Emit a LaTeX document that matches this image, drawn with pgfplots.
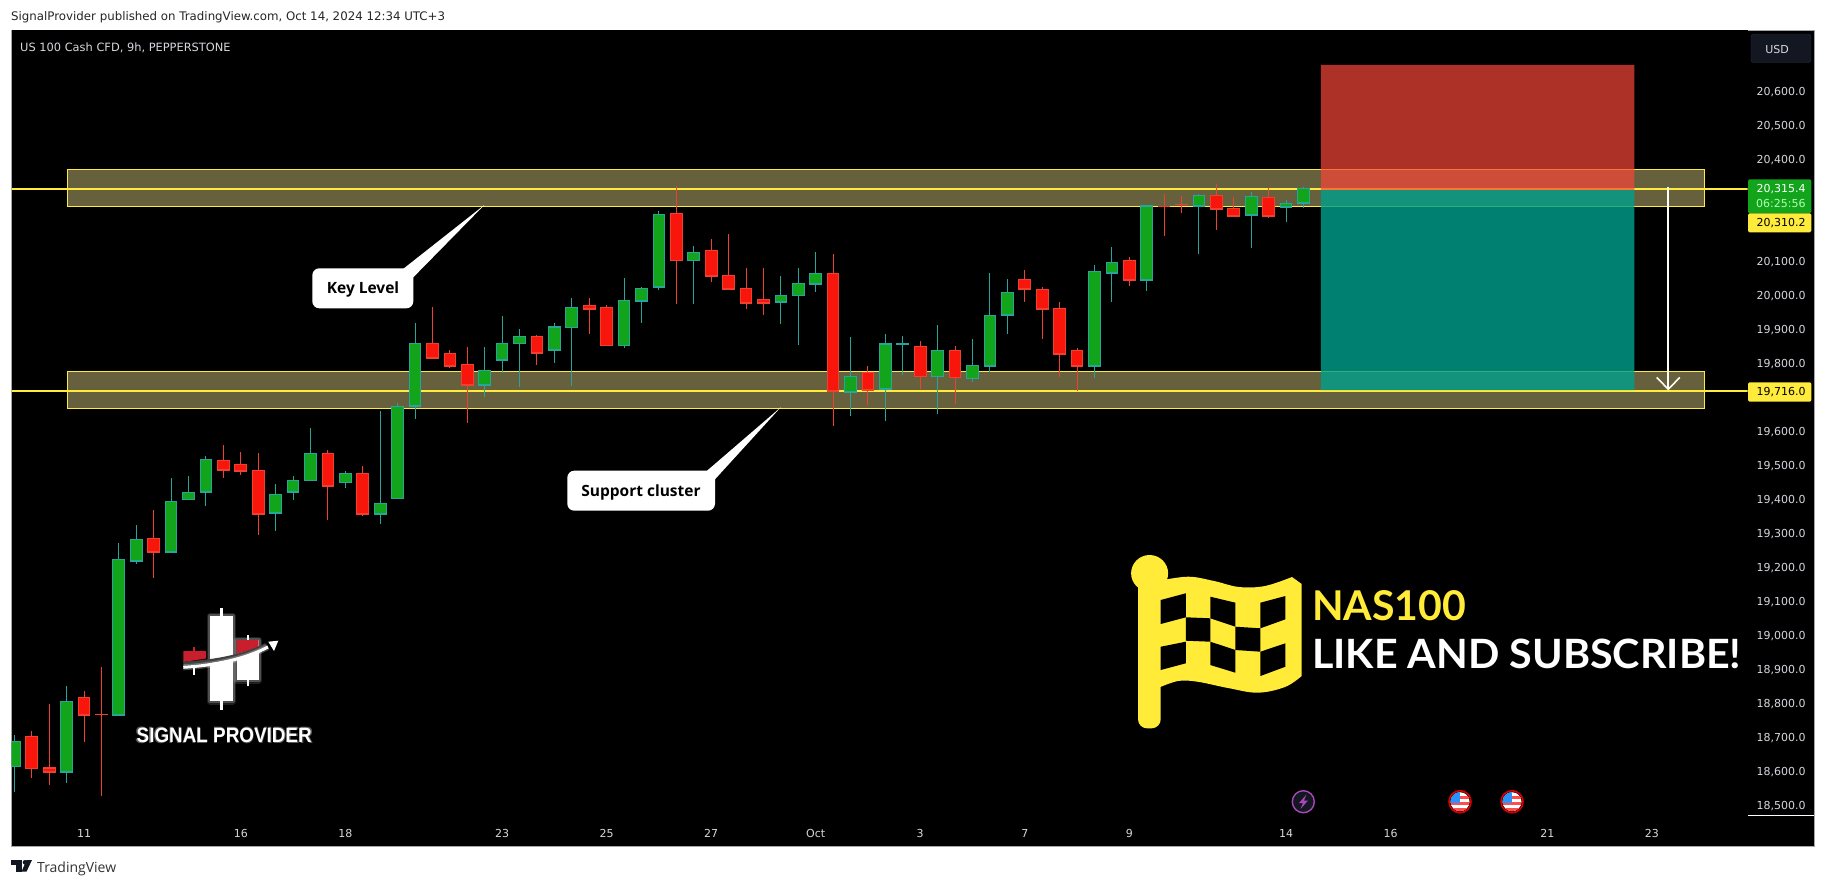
\documentclass[border=0pt]{standalone}
\usepackage{fontspec}
\usepackage{pgfplots}
\usepackage{pgfplotstable}
\pgfplotsset{compat=1.18}
\setmainfont{DejaVu Sans}
\newfontfamily\callfont{Open Sans}
\newfontfamily\bigfont{Lato}
\newfontfamily\logofont{Liberation Sans}
\newfontfamily\tvfont{Open Sans}
\definecolor{upfill}{HTML}{12A51C}
\definecolor{upedge}{HTML}{26A69A}
\definecolor{dnfill}{HTML}{F8150B}
\definecolor{dnedge}{HTML}{F0402F}
\definecolor{bandfill}{HTML}{66603C}
\definecolor{tvyellow}{HTML}{FFEB3B}
\definecolor{flagyellow}{HTML}{FFEB38}
\definecolor{ticktxt}{HTML}{D6D8DE}
\definecolor{rrred}{RGB}{249,70,56}
\definecolor{rrteal}{RGB}{0,160,141}
\definecolor{framegrey}{HTML}{A6A6A6}
\definecolor{usdfill}{RGB}{19,23,34}
\definecolor{usdedge}{RGB}{42,46,57}
\definecolor{purp}{RGB}{171,71,188}
\definecolor{logored}{RGB}{200,30,45}

\pgfplotstableread{
x bl bh l h
0 18613 18687 18538 18705
3 18598 18805 18565 18850
6 18765 19222 18765 19270
7 19218 19281 19208 19323
9 19245 19393 19241 19461
10 19399 19419 19399 19466
11 19421 19516 19379 19526
15 19359 19413 19305 19444
16 19421 19454 19397 19466
17 19454 19534 19454 19608
19 19448 19475 19432 19482
21 19356 19387 19326 19658
22 19401 19672 19401 19682
23 19674 19857 19635 19917
27 19736 19778 19700 19847
28 19809 19857 19771 19938
29 19857 19878 19729 19900
31 19839 19905 19800 19917
32 19904 19963 19732 19991
35 19851 19984 19844 20050
36 19983 20019 19917 20023
37 20024 20237 20014 20247
39 20101 20125 19973 20144
44 19980 19999 19914 20055
45 19998 20034 19853 20079
46 20033 20063 20008 20126
48 19715 19760 19644 19876
50 19724 19855 19629 19885
51 19855 19855 19764 19879
53 19760 19837 19650 19911
55 19754 19793 19744 19870
56 19792 19940 19773 20064
57 19942 20007 19885 20047
62 19792 20069 19756 20088
63 20065 20096 19979 20141
65 20045 20261 20011 20264
68 20262 20293 20120 20297
71 20236 20290 20138 20302
73 20259 20269 20214 20279
74 20271 20313 20255 20317
}\uptable

\pgfplotstableread{
x bl bh l h
1 18607 18702 18579 18717
2 18598 18608 18559 18797
4 18765 18816 18685 18835
5 18766 18766 18526 18906
8 19245 19284 19167 19367
12 19486 19513 19461 19558
13 19483 19501 19470 19538
14 19356 19484 19294 19535
18 19439 19534 19338 19544
20 19356 19475 19350 19497
24 19815 19857 19815 19964
25 19792 19828 19785 19838
26 19736 19796 19624 19847
30 19830 19878 19794 19882
33 19959 19967 19885 19991
34 19851 19963 19851 19970
38 20101 20240 19973 20320
40 20056 20131 20038 20164
41 20018 20057 20018 20179
42 19977 20019 19958 20079
43 19977 19987 19941 20079
47 19718 20063 19614 20120
49 19721 19772 19676 19791
52 19760 19849 19723 19864
54 19757 19837 19679 19850
58 20018 20046 19979 20073
59 19959 20016 19870 20023
60 19827 19960 19759 19979
61 19792 19837 19717 19844
64 20045 20101 20026 20111
66 20260 20260 20173 20297
67 20266 20266 20241 20291
69 20253 20293 20191 20326
70 20233 20254 20233 20288
72 20233 20287 20226 20314
}\dntable

\newcommand{\candles}[3]{%
  % wicks
  \addplot[draw=none, mark=none, forget plot,
    error bars/.cd, y dir=both, y explicit, error mark=none,
    error bar style={line width=1pt, draw=#2, solid}]
    table[x=x, y=bl, y error plus expr=\thisrow{h}-\thisrow{bl}, y error minus expr=\thisrow{bl}-\thisrow{l}] {#1};
  % body outline
  \addplot[draw=none, mark=none, forget plot,
    error bars/.cd, y dir=both, y explicit, error mark=none,
    error bar style={line width=12.7pt, draw=#2, solid}]
    table[x=x, y=bl, y error plus expr=\thisrow{bh}-\thisrow{bl}+1.8, y error minus expr=1.8] {#1};
  % body fill
  \addplot[draw=none, mark=none, forget plot,
    error bars/.cd, y dir=both, y explicit, error mark=none,
    error bar style={line width=10.7pt, draw=#3, solid}]
    table[x=x, y expr=(\thisrow{bl}+\thisrow{bh})/2,
      y error plus expr={max((\thisrow{bh}-\thisrow{bl})/2-1.2,0)},
      y error minus expr={max((\thisrow{bh}-\thisrow{bl})/2-1.2,0)}] {#1};
}

\begin{document}
\begin{tikzpicture}[x=1pt,y=-1pt]
% page and frame
\fill[white] (0,0) rectangle (1826,886);
\fill[black] (11,30) rectangle (1814,846);
\draw[framegrey, line width=1pt] (11,846) -- (11,30) -- (1814,30) -- (1814,846) -- cycle;
\node[anchor=west, inner sep=0pt, text=black!85, font=\fontsize{11.8}{13}\selectfont] at (11,17.5)
  {SignalProvider published on TradingView.com, Oct 14, 2024 12:34 UTC+3};

\begin{axis}[
  at={(11.5pt,-815.7pt)}, anchor=south west,
  width=1736pt, height=785.7pt, scale only axis,
  xmin=-0.162, xmax=99.49, ymin=18468, ymax=20778.8,
  axis line style={draw=none},
  axis background/.style={fill=black},
  major tick length=0pt,
  clip=true,
  scaled y ticks=false,
  xtick={4,13,19,28,34,40,46,52,58,64,73,79,88,94},
  xticklabels={11,16,18,23,25,27,Oct,3,7,9,14,16,21,23},
  ytick={18500,18600,18700,18800,18900,19000,19100,19200,19300,19400,19500,19600,19800,19900,20000,20100,20400,20500,20600},
  yticklabel pos=right,
  /pgf/number format/.cd, fixed, fixed zerofill, precision=1, 1000 sep={,}, assume math mode=true,
  /pgfplots/.cd,
  yticklabel style={anchor=east, inner sep=0pt, xshift=58.2pt, yshift=-1pt, text=ticktxt, font=\fontsize{11}{13}\selectfont},
  xticklabel style={anchor=center, inner sep=0pt, yshift=-17.5pt, text=ticktxt, font=\fontsize{11}{13}\selectfont},
]
% zones
\addplot[fill=bandfill, draw=tvyellow, line width=1pt, forget plot] coordinates {(3.04,20369)(97,20369)(97,20260)(3.04,20260)(3.04,20369)};
\addplot[fill=bandfill, draw=tvyellow, line width=1pt, forget plot] coordinates {(3.04,19775)(97,19775)(97,19666)(3.04,19666)(3.04,19775)};
% levels
\addplot[tvyellow, line width=2pt, forget plot] coordinates {(-0.2,20310.2)(99.6,20310.2)};
\addplot[tvyellow, line width=2pt, forget plot] coordinates {(-0.2,19716)(99.6,19716)};
% candles
\candles{\uptable}{upedge}{upfill}
\candles{\dntable}{dnedge}{dnfill}
% short position
\addplot[fill=rrred, fill opacity=.7, draw=none, forget plot] coordinates {(75,20676)(93,20676)(93,20308)(75,20308)(75,20676)};
\addplot[fill=rrteal, fill opacity=.8, draw=none, forget plot] coordinates {(75,20308)(93,20308)(93,19720)(75,19720)(75,20308)};
% arrow
\addplot[color=white!95!yellow, line width=1.6pt, forget plot] coordinates {(94.94,20316)(94.94,19722)};
\addplot[color=white!95!yellow, line width=1.6pt, forget plot] coordinates {(94.28,19757)(94.94,19722)(95.6,19757)};
\end{axis}

% thin axis divider lines
\draw[white, line width=1pt] (1747.5,815.7) -- (1814,815.7);
% header
\node[anchor=west, inner sep=0pt, text=ticktxt, font=\fontsize{11.4}{13}\selectfont] at (20,47.5) {US 100 Cash CFD, 9h, PEPPERSTONE};
% USD
\fill[rounded corners=3pt, fill=usdfill, draw=usdedge] (1751,34) rectangle (1811,62.7);
\node[inner sep=0pt, text=ticktxt, font=\fontsize{11}{13}\selectfont] at (1777,49) {USD};
% price labels
\fill[upfill, rounded corners=1.5pt] (1748,179.3) rectangle (1811.3,213.3);
\node[anchor=east, inner sep=0pt, text=white, font=\fontsize{11}{13}\selectfont] at (1805.7,189) {20,315.4};
\node[anchor=east, inner sep=0pt, text=white!70!green, font=\fontsize{11}{13}\selectfont] at (1805.7,203.5) {06:25:56};
\fill[tvyellow, rounded corners=1.5pt] (1748,213.3) rectangle (1811.3,232.3);
\node[anchor=east, inner sep=0pt, text=black, font=\fontsize{11}{13}\selectfont] at (1805.7,223) {20,310.2};
\fill[tvyellow, rounded corners=1.5pt] (1748,382.3) rectangle (1811.3,401.7);
\node[anchor=east, inner sep=0pt, text=black, font=\fontsize{11}{13}\selectfont] at (1805.7,392.5) {19,716.0};

% callouts
\fill[white] (403.3,268.8) -- (484.3,205) -- (413.3,277.3) -- cycle;
\fill[white, rounded corners=7pt] (312.3,268.3) rectangle (413.3,308.3);
\node[inner sep=0pt, text=black, font=\callfont\bfseries\fontsize{15.5}{18}\selectfont] at (363,289.5) {Key Level};
\fill[white] (706.7,471) -- (780.7,407.3) -- (715,479.3) -- cycle;
\fill[white, rounded corners=7pt] (567.3,470.7) rectangle (715,510.7);
\node[inner sep=0pt, text=black, font=\callfont\bfseries\fontsize{15.5}{18}\selectfont] at (641,492) {Support cluster};

% flag
\fill[flagyellow] (1149.6,573.3) ellipse (18.5 and 18.3);
\fill[flagyellow, rounded corners=9pt] (1138,575) rectangle (1160.7,728.3);
\fill[flagyellow] plot[smooth,tension=.6] coordinates {(1158,581)(1188,576.7)(1214,581)(1239,587)(1265,586)(1292,577)} -- (1301.7,584) -- plot[smooth,tension=.6] coordinates {(1301.7,676)(1285,687)(1257.6,692.7)(1228,688)(1197.4,681.7)(1178,681)(1158,688)} -- cycle;
\fill[black] (1160.7,600)--(1185.8,593.3)--(1185.8,617.3)--(1160.7,624)--cycle;
\fill[black] (1210.3,596.7)--(1235.4,602.7)--(1235.4,626.7)--(1210.3,618.3)--cycle;
\fill[black] (1260.4,602.7)--(1285.4,596)--(1285.4,619.3)--(1260.4,628.3)--cycle;
\fill[black] (1185.8,617.3)--(1210.3,618.3)--(1210.3,641.7)--(1185.8,640.7)--cycle;
\fill[black] (1235.4,626.7)--(1260.4,628.3)--(1260.4,651.7)--(1235.4,650)--cycle;
\fill[black] (1160.7,646.7)--(1185.8,641.7)--(1185.8,663.3)--(1160.7,670)--cycle;
\fill[black] (1210.3,641.7)--(1235.4,650)--(1235.4,672.7)--(1210.3,665)--cycle;
\fill[black] (1260.4,651.7)--(1285.4,643.3)--(1285.4,666.7)--(1260.4,676)--cycle;
\node[anchor=south west, inner sep=0pt, text=flagyellow] at (1312,621) {\resizebox{154pt}{30pt}{\bigfont\bfseries NAS100}};
\node[anchor=south west, inner sep=0pt, text=white] at (1312,669) {\resizebox{429pt}{29.5pt}{\bigfont\bfseries LIKE AND SUBSCRIBE!}};

% logo
\foreach \o/\w in {.12/7,.22/4}{
  \draw[white, opacity=\o, line width=\w pt, line join=round] (210,616) rectangle (232.7,701);
  \draw[white, opacity=\o, line width=\w pt, line join=round] (236.7,640) rectangle (258.7,680);
}
\draw[white, line width=2.6pt] (221.3,608.3) -- (221.3,710);
\fill[white] (210,616) rectangle (232.7,701);
\draw[white, line width=2pt] (247.7,635) -- (247.7,685.7);
\fill[white] (236.7,640) rectangle (258.7,680);
\fill[logored] (236.7,640) -- (258.7,640) -- (258.7,648) -- (236.7,654) -- cycle;
\fill[logored] (183.3,651) -- (206,651) -- (206,658.5) -- (183.3,662) -- cycle;
\draw[logored, line width=2pt] (194,646.7) -- (194,651);
\draw[white, line width=2.4pt] (194,668) -- (194,675);
\draw[black!75, line width=4pt] (183.3,663.5) .. controls (215,662) and (245,656) .. (266,645);
\draw[white, opacity=.25, line width=6pt] (183.3,667.3) .. controls (215,665.5) and (245,659) .. (268,647);
\draw[white, line width=3pt] (183.3,667.3) .. controls (215,665.5) and (245,659) .. (268,647);
\fill[white] (268.3,641.7) -- (278.3,640.7) -- (274,651) -- cycle;
\node[inner sep=0pt, text=white, opacity=.35] at (224.2,735.5) {\resizebox{178pt}{16.5pt}{\logofont\bfseries SIGNAL PROVIDER}};
\node[inner sep=0pt, text=white] at (224.2,735.5) {\resizebox{175pt}{14.5pt}{\logofont\bfseries SIGNAL PROVIDER}};

% event icons
\fill[usdfill, draw=purp, line width=1.4pt] (1303.3,801.7) circle (11);
\fill[purp] (1306.5,794.5) -- (1299,803) -- (1303,803) -- (1300.5,809) -- (1308,800.5) -- (1304,800.5) -- cycle;
\foreach \cx in {1460,1512}{
  \begin{scope}
    \clip (\cx,801.7) circle (9.5);
    \fill[white] (\cx-10,792) rectangle (\cx+10,812);
    \fill[red!70!white] (\cx-10,796) rectangle (\cx+10,799);
    \fill[red!70!white] (\cx-10,802) rectangle (\cx+10,805);
    \fill[red!70!white] (\cx-10,808) rectangle (\cx+10,812);
    \fill[blue!50!cyan!85!white] (\cx-10,792) rectangle (\cx,802.5);
  \end{scope}
  \draw[red!85!black, line width=1.6pt] (\cx,801.7) circle (11);
}

% TradingView footer
\fill[usdfill] (11,860) rectangle (22,864.5);
\fill[usdfill] (16,860) rectangle (22,871.7);
\fill[usdfill] (25,862.3) circle (2.3);
\fill[usdfill] (26.5,860) -- (32,860) -- (26.5,871.7) -- (21.5,871.7) -- cycle;
\node[anchor=west, inner sep=0pt, text=black!80, font=\tvfont\fontsize{14}{16}\selectfont] at (37,868.5) {TradingView};
\end{tikzpicture}
\end{document}
